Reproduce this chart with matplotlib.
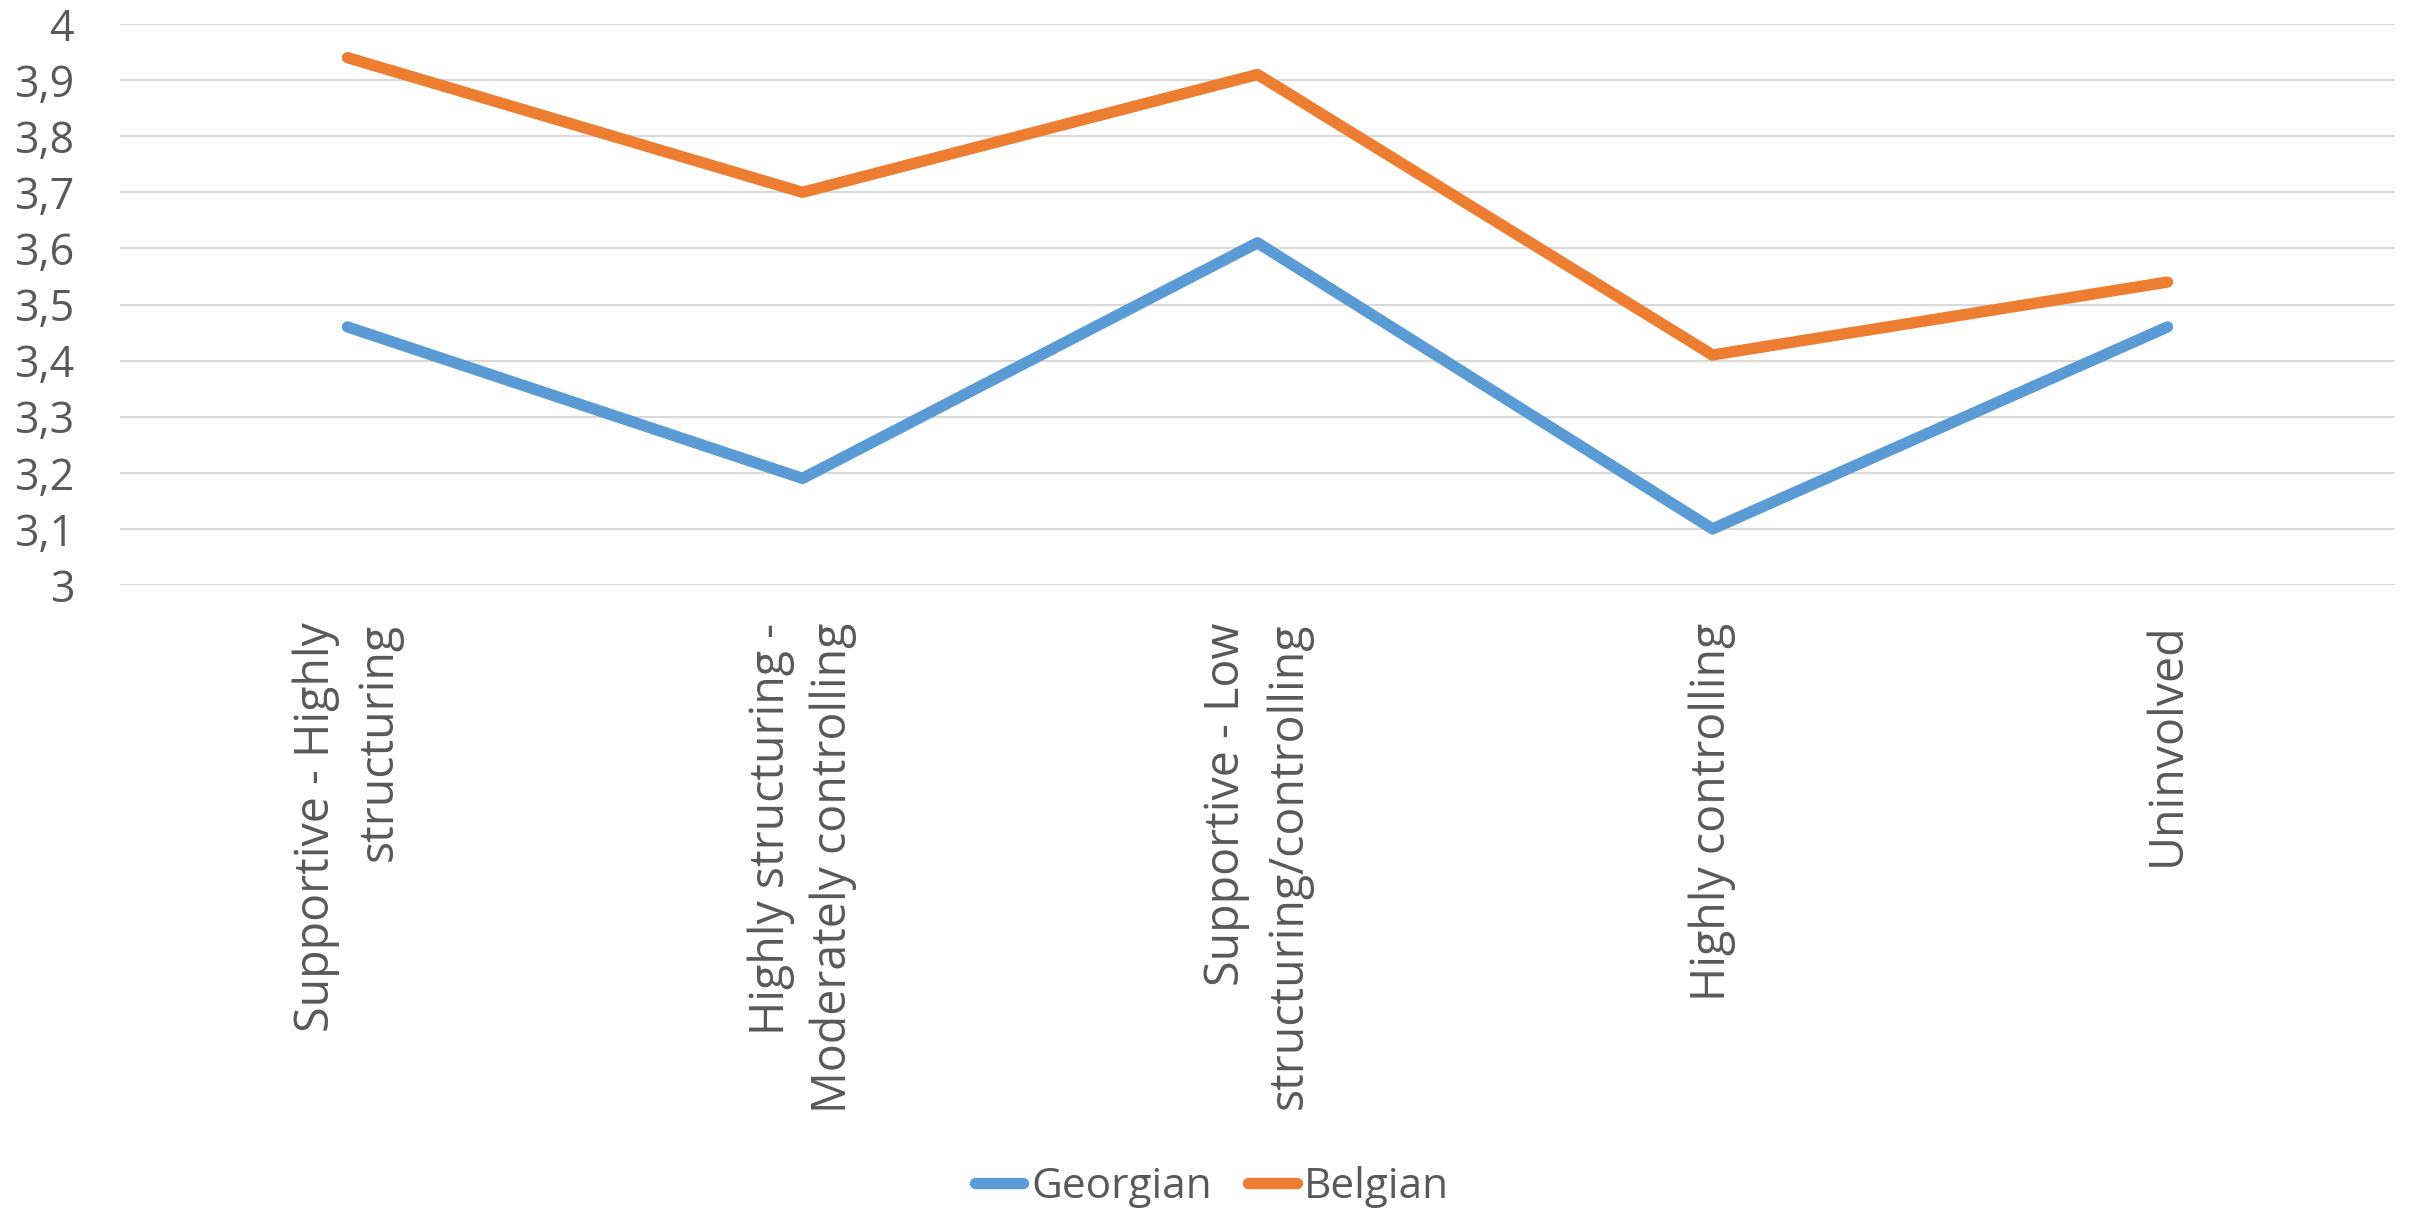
import matplotlib
matplotlib.use("Agg")
import matplotlib.pyplot as plt

categories = ["Supportive - Highly\nstructuring",
              "Highly structuring -\nModerately controlling",
              "Supportive - Low\nstructuring/controlling",
              "Highly controlling",
              "Uninvolved"]
georgian = [3.46, 3.19, 3.61, 3.10, 3.46]
belgian = [3.94, 3.70, 3.91, 3.41, 3.54]
yticks = [3.0, 3.1, 3.2, 3.3, 3.4, 3.5, 3.6, 3.7, 3.8, 3.9, 4.0]
ytick_labels = ["3", "3,1", "3,2", "3,3", "3,4", "3,5", "3,6", "3,7", "3,8", "3,9", "4"]

plt.rcParams['font.family'] = ['Open Sans', 'DejaVu Sans']
text_color = "#595959"

fig = plt.figure(figsize=(24.14, 12.10), dpi=100)
ax = fig.add_axes([120 / 2414, 1 - 585 / 1210, (2395 - 120) / 2414, (585 - 24) / 1210])

x = list(range(len(categories)))
ax.plot(x, georgian, color="#5B9BD5", lw=8.2, solid_capstyle='round', solid_joinstyle='round', label="Georgian", zorder=3)
ax.plot(x, belgian, color="#ED7D31", lw=8.2, solid_capstyle='round', solid_joinstyle='round', label="Belgian", zorder=3)

ax.set_xlim(-0.5, len(categories) - 0.5)
ax.set_ylim(3.0, 4.0)
ax.set_yticks(yticks)
ax.set_yticklabels(ytick_labels, fontsize=31, color=text_color)
ax.set_xticks(x)
ax.set_xticklabels(categories, rotation=90, ha='center', va='top', multialignment='right',
                   linespacing=1.4, fontsize=33.5, color=text_color)
ax.tick_params(axis='both', length=0)
ax.tick_params(axis='y', pad=33)
ax.tick_params(axis='x', pad=27)
ax.grid(axis='y', color="#D9D9D9", lw=1.5, zorder=0)
ax.set_axisbelow(True)
for s in ax.spines.values():
    s.set_visible(False)

leg = fig.legend(loc='center', bbox_to_anchor=(1212 / 2414, 1 - 1187 / 1210), ncol=2, frameon=False,
                 fontsize=30.5, handlelength=1.15, handletextpad=0.18, columnspacing=0.85,
                 labelcolor=text_color, borderpad=0, borderaxespad=0)

fig.savefig("out.png", dpi=100)
